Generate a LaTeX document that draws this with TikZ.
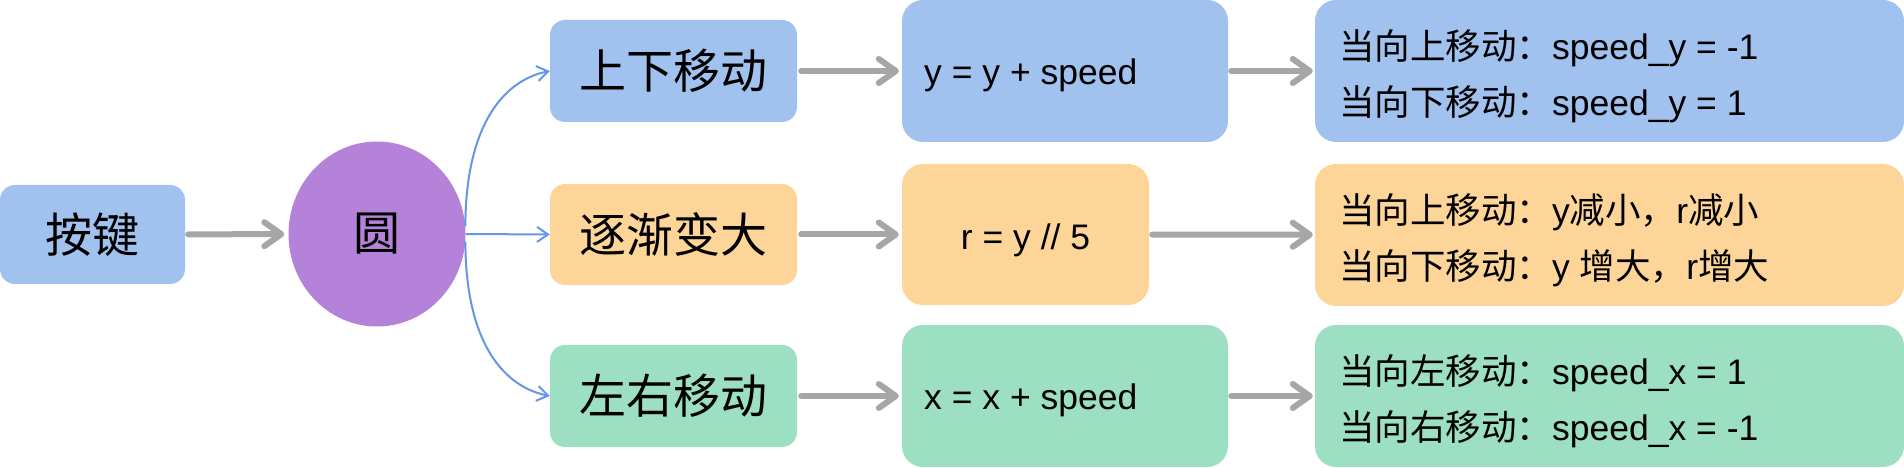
\documentclass[tikz,border=0pt]{standalone}
\usepackage{fontspec}
\setmainfont{Liberation Sans}
\newfontfamily\cjk{Noto Sans CJK SC}
\usetikzlibrary{arrows.meta,shapes.geometric}
\definecolor{blueF}{RGB}{161,193,238}
\definecolor{orangeF}{RGB}{253,213,153}
\definecolor{greenF}{RGB}{157,223,195}
\definecolor{purpleF}{RGB}{180,130,216}
\definecolor{grayA}{RGB}{166,166,166}
\definecolor{blueL}{RGB}{100,150,230}
\newcommand\fsz[1]{\fontsize{#1}{#1}\selectfont}
\begin{document}
\begin{tikzpicture}[x=1pt,y=1pt,
  box/.style={rounded corners=15pt, fill=#1, draw=none, inner sep=0pt},
  bigbox/.style={rounded corners=21pt, fill=#1, draw=none, inner sep=0pt},
  biglabel/.style={font=\cjk\fsz{47}},
  txt/.style={anchor=base west, font=\fsz{35.5}, inner sep=0pt},
  garrow/.style={draw=grayA, line width=6pt, line cap=round,
    -{Straight Barb[length=17pt,width=24pt,round]}},
  barrow/.style={draw=blueL, line width=2pt,
    -{Straight Barb[length=11pt,width=15pt]}}
]
\useasboundingbox (0,0) rectangle (1904,468);

% left column
\node[box=blueF, minimum width=185pt, minimum height=99pt, biglabel] (key) at (92.5,233.5) {按键};
\node[ellipse, fill=purpleF, minimum width=177pt, minimum height=185pt, inner sep=0pt, biglabel] (c) at (377,234) {圆};

% second column
\node[box=blueF, minimum width=247pt, minimum height=102pt, biglabel] (ud) at (673.5,397) {上下移动};
\node[box=orangeF, minimum width=247pt, minimum height=101pt, biglabel] (grow) at (673.5,233.5) {逐渐变大};
\node[box=greenF, minimum width=247pt, minimum height=102pt, biglabel] (lr) at (673.5,72) {左右移动};

% third column
\node[bigbox=blueF, minimum width=326pt, minimum height=142pt] (ud2) at (1065,397) {};
\node[bigbox=orangeF, minimum width=247pt, minimum height=141pt] (grow2) at (1025.5,233.5) {};
\node[bigbox=greenF, minimum width=326pt, minimum height=142pt] (lr2) at (1065,72) {};
\node[txt] (t1) at (924,383) {y = y + speed};
\node[font=\fsz{35.5}, inner sep=0pt, anchor=base] (t2) at (1025.5,218) {r = y // 5};
\node[txt] (t3) at (924,58) {x = x + speed};

% fourth column
\node[bigbox=blueF, minimum width=589pt, minimum height=142pt] (ud3) at (1609.5,397) {};
\node[bigbox=orangeF, minimum width=589pt, minimum height=142pt] (grow3) at (1609.5,233) {};
\node[bigbox=greenF, minimum width=589pt, minimum height=142pt] (lr3) at (1609.5,72) {};
\node[txt] (r1a) at (1339,408) {{\cjk 当向上移动：}speed\_y = -1};
\node[txt] (r1b) at (1339,352) {{\cjk 当向下移动：}speed\_y = 1};
\node[txt] (r2a) at (1339,244) {{\cjk 当向上移动：}y{\cjk 减小，}r{\cjk 减小}};
\node[txt] (r2b) at (1339,188) {{\cjk 当向下移动：}y {\cjk 增大，}r{\cjk 增大}};
\node[txt] (r3a) at (1339,83) {{\cjk 当向左移动：}speed\_x = 1};
\node[txt] (r3b) at (1339,27) {{\cjk 当向右移动：}speed\_x = -1};

% gray connectors
\draw[garrow, shorten <=3pt, shorten >=4pt] (key) -- (c);
\draw[garrow, shorten <=4pt, shorten >=3pt] (ud) -- (ud2);
\draw[garrow, shorten <=4pt, shorten >=3pt] (grow) -- (grow2);
\draw[garrow, shorten <=4pt, shorten >=3pt] (lr) -- (lr2);
\draw[garrow, shorten <=3pt, shorten >=2pt] (ud2) -- (ud3);
\draw[garrow, shorten <=3pt, shorten >=2pt] (grow2) -- (grow3);
\draw[garrow, shorten <=3pt, shorten >=2pt] (lr2) -- (lr3);

% blue connectors
\draw[barrow] (c.5) .. controls +(0,95) and +(-50,-10) .. (ud.west);
\draw[barrow] (c.east) -- (grow.west);
\draw[barrow] (c.-5) .. controls +(0,-95) and +(-50,10) .. (lr.west);
\end{tikzpicture}
\end{document}
